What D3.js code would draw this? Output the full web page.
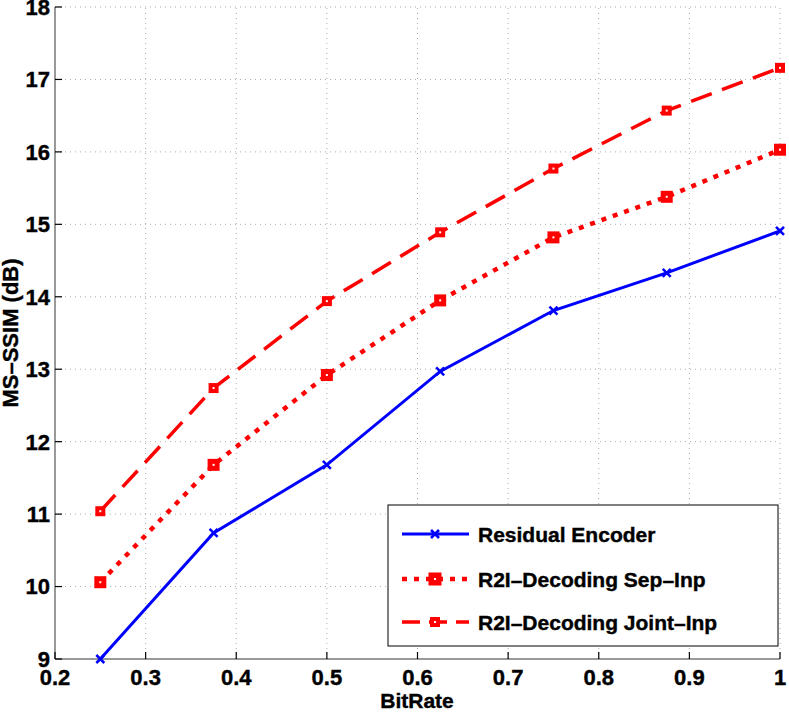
<!DOCTYPE html>
<html>
<head>
<meta charset="utf-8">
<script src="https://cdn.jsdelivr.net/npm/d3@7"></script>
<style>
  body { margin: 0; background: #fff; }
  text { font-family: "Liberation Sans", Arial, Helvetica, sans-serif; font-weight: bold; stroke: #000; stroke-width: 0.4px; }
</style>
</head>
<body>
<div id="chart"></div>
<script>
// data
const bitRates = [0.25, 0.375, 0.5, 0.625, 0.75, 0.875, 1.0];
const residualEncoder = [9.00, 10.74, 11.68, 12.97, 13.81, 14.33, 14.91];
const sepInp = [10.06, 11.68, 12.92, 13.95, 14.82, 15.38, 16.03];
const jointInp = [11.04, 12.74, 13.94, 14.89, 15.77, 16.57, 17.16];
const xTicks = [0.2, 0.3, 0.4, 0.5, 0.6, 0.7, 0.8, 0.9, 1];
const yTicks = [9, 10, 11, 12, 13, 14, 15, 16, 17, 18];
const seriesNames = ['Residual Encoder', 'R2I\u2013Decoding Sep\u2013Inp', 'R2I\u2013Decoding Joint\u2013Inp'];

const width = 789, height = 717;
const margin = { top: 7, right: 10, bottom: 58, left: 55 };

const svg = d3.select('#chart').append('svg')
  .attr('width', width)
  .attr('height', height);

const x = d3.scaleLinear().domain([0.2, 1]).range([margin.left, width - margin.right + 1]);
const y = d3.scaleLinear().domain([9, 18]).range([height - margin.bottom, margin.top]);

// grid
svg.append('g').selectAll('line')
  .data(xTicks.slice(1))
  .join('line')
    .attr('x1', d => x(d)).attr('x2', d => x(d))
    .attr('y1', y(9)).attr('y2', y(18))
    .attr('stroke', '#aaa').attr('stroke-width', 1)
    .attr('stroke-dasharray', '1,4');
svg.append('g').selectAll('line')
  .data(yTicks.slice(1))
  .join('line')
    .attr('x1', x(0.2)).attr('x2', x(1))
    .attr('y1', d => y(d)).attr('y2', d => y(d))
    .attr('stroke', '#aaa').attr('stroke-width', 1)
    .attr('stroke-dasharray', '1,4');

// axes
svg.append('line')
  .attr('x1', x(0.2)).attr('x2', x(0.2))
  .attr('y1', y(9)).attr('y2', y(18))
  .attr('stroke', '#777').attr('stroke-width', 1.5);
svg.append('line')
  .attr('x1', x(0.2)).attr('x2', x(1))
  .attr('y1', y(9)).attr('y2', y(9))
  .attr('stroke', '#777').attr('stroke-width', 1.5);

// ticks + labels
svg.append('g').selectAll('line')
  .data(yTicks)
  .join('line')
    .attr('x1', x(0.2)).attr('x2', x(0.2) + 7)
    .attr('y1', d => y(d)).attr('y2', d => y(d))
    .attr('stroke', '#000').attr('stroke-width', 1.2);
svg.append('g').selectAll('text')
  .data(yTicks)
  .join('text')
    .attr('x', x(0.2) - 5)
    .attr('y', d => y(d))
    .attr('dy', '0.36em')
    .attr('text-anchor', 'end')
    .attr('font-size', 22)
    .text(d => d);

svg.append('g').selectAll('line')
  .data(xTicks)
  .join('line')
    .attr('x1', d => x(d)).attr('x2', d => x(d))
    .attr('y1', y(9)).attr('y2', y(9) - 7)
    .attr('stroke', '#000').attr('stroke-width', 1.2);
svg.append('g').selectAll('text')
  .data(xTicks)
  .join('text')
    .attr('x', d => x(d))
    .attr('y', y(9) + 26)
    .attr('text-anchor', 'middle')
    .attr('font-size', 22)
    .text(d => d);

// axis titles
svg.append('text')
  .attr('x', 417).attr('y', 708)
  .attr('text-anchor', 'middle')
  .attr('font-size', 21)
  .text('BitRate');
svg.append('text')
  .attr('transform', `translate(18,${(y(9) + y(18)) / 2}) rotate(-90)`)
  .attr('text-anchor', 'middle')
  .attr('font-size', 22)
  .text('MS\u2013SSIM (dB)');

const line = d3.line().x((d, i) => x(bitRates[i])).y(d => y(d));

// residual encoder
svg.append('path')
  .datum(residualEncoder)
  .attr('d', line)
  .attr('fill', 'none')
  .attr('stroke', '#0000ff')
  .attr('stroke-width', 3);
function crossMark(g, cx, cy, s, col) {
  g.append('path')
    .attr('d', `M${cx - s},${cy - s}L${cx + s},${cy + s}M${cx - s},${cy + s}L${cx + s},${cy - s}`)
    .attr('stroke', col).attr('stroke-width', 2.5);
}
const blueMarks = svg.append('g');
residualEncoder.forEach((v, i) => crossMark(blueMarks, x(bitRates[i]), y(v), 4, '#0000ff'));

// sep-inp (dotted)
svg.append('path')
  .datum(sepInp)
  .attr('d', line)
  .attr('fill', 'none')
  .attr('stroke', '#ff0000')
  .attr('stroke-width', 4.5)
  .attr('stroke-dasharray', '5,7');

// joint-inp (dashed)
svg.append('path')
  .datum(jointInp)
  .attr('d', line)
  .attr('fill', 'none')
  .attr('stroke', '#ff0000')
  .attr('stroke-width', 3.5)
  .attr('stroke-dasharray', '22,11');

function squareMark(g, cx, cy, s) {
  g.append('rect')
    .attr('x', cx - s / 2).attr('y', cy - s / 2)
    .attr('width', s).attr('height', s)
    .attr('fill', '#ff0000');
  g.append('rect')
    .attr('x', cx - 1).attr('y', cy - 1)
    .attr('width', 2).attr('height', 2)
    .attr('fill', '#fff');
}
const redMarks = svg.append('g');
sepInp.forEach((v, i) => squareMark(redMarks, x(bitRates[i]), y(v), 12));
jointInp.forEach((v, i) => squareMark(redMarks, x(bitRates[i]), y(v), 10));

// legend
const lg = svg.append('g').attr('transform', 'translate(388,505)');
lg.append('rect')
  .attr('width', 390).attr('height', 141)
  .attr('fill', '#fff')
  .attr('stroke', '#000').attr('stroke-width', 1);
const rows = [29, 74, 117];
// row 1
lg.append('line').attr('x1', 14).attr('x2', 81).attr('y1', rows[0]).attr('y2', rows[0])
  .attr('stroke', '#0000ff').attr('stroke-width', 3);
crossMark(lg, 47, rows[0], 4, '#0000ff');
// row 2
lg.append('line').attr('x1', 14).attr('x2', 81).attr('y1', rows[1]).attr('y2', rows[1])
  .attr('stroke', '#ff0000').attr('stroke-width', 4.5).attr('stroke-dasharray', '5,7');
squareMark(lg, 47, rows[1], 13);
// row 3
lg.append('line').attr('x1', 14).attr('x2', 81).attr('y1', rows[2]).attr('y2', rows[2])
  .attr('stroke', '#ff0000').attr('stroke-width', 3.5).attr('stroke-dasharray', '18,9');
squareMark(lg, 47, rows[2], 10);

lg.selectAll('text.lab')
  .data(seriesNames)
  .join('text')
    .attr('class', 'lab')
    .attr('x', 90)
    .attr('y', (d, i) => rows[i])
    .attr('dy', '0.36em')
    .attr('font-size', 21)
    .text(d => d);
</script>
</body>
</html>
